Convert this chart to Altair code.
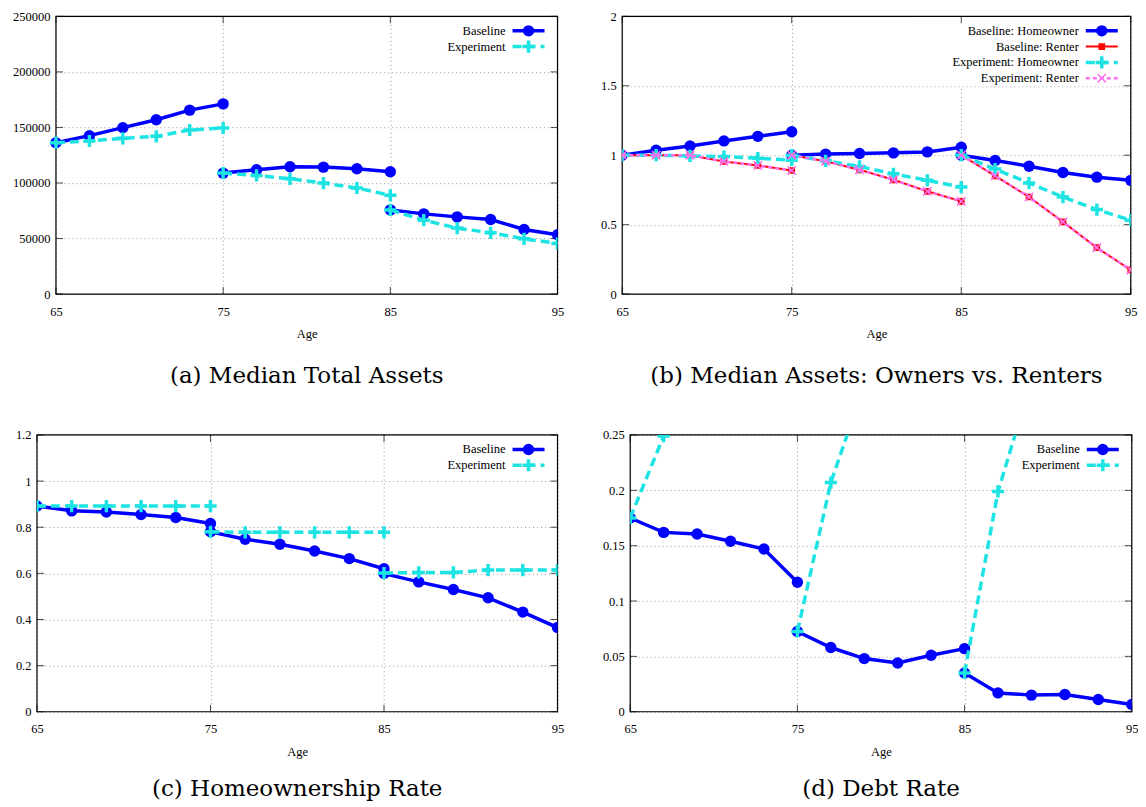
import altair as alt
import pandas as pd

# ---- data ----
# three overlapping age windows, every two years
seg_ages = [[65, 67, 69, 71, 73, 75], [75, 77, 79, 81, 83, 85], [85, 87, 89, 91, 93, 95]]
x_ticks = [65, 75, 85, 95]

# (a) Median Total Assets
a_baseline = [136300, 142600, 149800, 156900, 165600, 171200,
              108900, 111900, 114600, 114300, 112800, 110100,
              75800, 72200, 69500, 67100, 58200, 53400]
a_experiment = [136300, 137800, 140200, 142000, 147700, 149500,
                108900, 106800, 103800, 99900, 95500, 88900,
                75800, 66500, 59400, 55200, 49800, 45600]
a_ticks = [0, 50000, 100000, 150000, 200000, 250000]

# (b) Median Assets: Owners vs. Renters
b_base_owner = [1.0, 1.036, 1.067, 1.103, 1.136, 1.169,
                1.0, 1.008, 1.012, 1.017, 1.024, 1.057,
                1.0, 0.962, 0.921, 0.876, 0.842, 0.819]
b_base_renter = [1.0, 1.0, 1.0, 0.955, 0.926, 0.890,
                 1.0, 0.957, 0.895, 0.823, 0.740, 0.668,
                 1.0, 0.852, 0.699, 0.520, 0.334, 0.174]
b_exp_owner = [1.0, 1.0, 0.995, 0.990, 0.979, 0.964,
               1.0, 0.960, 0.919, 0.866, 0.819, 0.771,
               1.0, 0.900, 0.800, 0.699, 0.609, 0.532]
b_exp_renter = [1.0, 1.0, 1.0, 0.955, 0.926, 0.890,
                1.0, 0.957, 0.895, 0.823, 0.740, 0.668,
                1.0, 0.852, 0.699, 0.520, 0.334, 0.174]
b_ticks = [0, 0.5, 1, 1.5, 2]

# (c) Homeownership Rate
c_baseline = [0.892, 0.871, 0.866, 0.855, 0.842, 0.816,
              0.780, 0.748, 0.726, 0.697, 0.664, 0.620,
              0.599, 0.563, 0.530, 0.494, 0.432, 0.365]
c_experiment = [0.892, 0.892, 0.892, 0.892, 0.892, 0.892,
                0.780, 0.778, 0.778, 0.778, 0.778, 0.778,
                0.601, 0.604, 0.604, 0.614, 0.614, 0.614]
c_ticks = [0, 0.2, 0.4, 0.6, 0.8, 1, 1.2]

# (d) Debt Rate (experiment runs off the top of the axis)
d_baseline = [0.175, 0.162, 0.1605, 0.154, 0.147, 0.117,
              0.0725, 0.058, 0.048, 0.044, 0.051, 0.057,
              0.035, 0.017, 0.015, 0.0155, 0.011, 0.0066]
d_experiment = [0.175, 0.249, 0.32, 0.37, 0.41, 0.45,
                0.0725, 0.207, 0.295, 0.34, 0.38, 0.42,
                0.035, 0.199, 0.299, 0.35, 0.39, 0.43]
d_ticks = [0, 0.05, 0.1, 0.15, 0.2, 0.25]

FONT = "Liberation Serif"
CAP_FONT = "DejaVu Serif"
FS = 12.5
TICK = 7

STYLES = {
    "base": dict(color="#0000ff", width=3.5, dash=None, shape="circle", filled=True, size=130, sw=1),
    "exp": dict(color="#1ee3e3", width=3.5, dash=[9, 5], shape="M-1,0H1M0,-1V1", filled=False, size=150, sw=3.5),
    "base_r": dict(color="#ff0000", width=2, dash=None, shape="square", filled=True, size=45, sw=1),
    "exp_r": dict(color="#ff70f0", width=2.5, dash=[4, 3], shape="M-1,-1L1,1M-1,1L1,-1", filled=False, size=70, sw=1.5),
}


def series_frame(values):
    rows = []
    for s, ages in enumerate(seg_ages):
        for age, v in zip(ages, values[s * 6:(s + 1) * 6]):
            rows.append({"age": age, "value": v, "seg": s})
    return pd.DataFrame(rows)


def line_kw(st):
    kw = dict(color=st["color"], strokeWidth=st["width"])
    if st["dash"]:
        kw["strokeDash"] = st["dash"]
    return kw


def point_kw(st):
    kw = dict(shape=st["shape"], size=st["size"], opacity=1, filled=st["filled"], color=st["color"])
    if not st["filled"]:
        kw["strokeWidth"] = st["sw"]
    return kw


def panel(series, y_ticks, y_fmt, width, height, extent, caption, cap_offset, box=None, pad=0):
    # pad: blank strip left of the plot inside the cell, so rows can start at different x
    x_axis = dict(values=x_ticks, title="Age", labelFlush=False)
    y_axis = dict(values=y_ticks, format=y_fmt, title=None, minExtent=extent, maxExtent=extent)
    x_scale = dict(domain=[65, 95], nice=False, zero=False)
    if pad:
        x_scale["range"] = [pad, width]
        x_axis["titleX"] = pad + (width - pad) / 2
        y_axis["offset"] = -pad
    X = alt.X("age:Q", scale=alt.Scale(**x_scale), axis=alt.Axis(**x_axis))
    Y = alt.Y("value:Q", scale=alt.Scale(domain=[y_ticks[0], y_ticks[-1]], nice=False, zero=False),
              axis=alt.Axis(**y_axis))
    layers = []

    # white box behind the key, as gnuplot does
    if box:
        layers.append(alt.Chart(pd.DataFrame({"k": [0]})).mark_rect(color="white").encode(
            x=alt.value(width - box[0]), x2=alt.value(width - 1), y=alt.value(1), y2=alt.value(box[1])))

    # plot border
    frame = pd.DataFrame({"age": [65], "age2": [95], "value": [y_ticks[0]], "value2": [y_ticks[-1]]})
    layers.append(alt.Chart(frame).mark_rect(filled=False, stroke="black", strokeWidth=1.2).encode(
        x=X, x2="age2:Q", y=Y, y2="value2:Q"))

    # inward ticks on all four borders
    n = len(y_ticks)
    tk = dict(size=TICK, thickness=1, color="black")
    for age, off in ((65, TICK / 2), (95, -TICK / 2)):
        df = pd.DataFrame({"age": [age] * n, "value": y_ticks})
        layers.append(alt.Chart(df).mark_tick(orient="horizontal", xOffset=off, **tk).encode(x=X, y=Y))
    for val, off in ((y_ticks[0], -TICK / 2), (y_ticks[-1], TICK / 2)):
        df = pd.DataFrame({"age": x_ticks, "value": [val] * 4})
        layers.append(alt.Chart(df).mark_tick(orient="vertical", yOffset=off, **tk).encode(x=X, y=Y))

    for label, key, vals in series:
        st = STYLES[key]
        df = series_frame(vals)
        layers.append(alt.Chart(df).mark_line(clip=True, **line_kw(st)).encode(x=X, y=Y, detail="seg:N"))
        layers.append(alt.Chart(df).mark_point(clip=True, **point_kw(st)).encode(x=X, y=Y))

    # key in the top-right corner: label, then line sample
    for i, (label, key, _) in enumerate(series):
        st = STYLES[key]
        yy = 14.5 + i * 15.8
        lab = pd.DataFrame({"label": [label]})
        layers.append(alt.Chart(lab).mark_text(align="right", baseline="middle", font=FONT,
                                               fontSize=FS, color="black").encode(
            text="label:N", x=alt.value(width - 52), y=alt.value(yy)))
        layers.append(alt.Chart(lab).mark_rule(**line_kw(st)).encode(
            x=alt.value(width - 45), x2=alt.value(width - 13), y=alt.value(yy)))
        layers.append(alt.Chart(lab).mark_point(**point_kw(st)).encode(
            x=alt.value(width - 29), y=alt.value(yy)))

    return alt.layer(*layers).properties(
        width=width, height=height,
        title=alt.TitleParams(caption, orient="bottom", anchor="middle", font=CAP_FONT, dx=pad / 2,
                              fontSize=23, fontWeight="normal", color="black", offset=cap_offset))


pa = panel([("Baseline", "base", a_baseline), ("Experiment", "exp", a_experiment)],
           a_ticks, "d", 521, 278, 44, "(a) Median Total Assets", 25, pad=19)
pb = panel([("Baseline: Homeowner", "base", b_base_owner), ("Baseline: Renter", "base_r", b_base_renter),
            ("Experiment: Homeowner", "exp", b_exp_owner), ("Experiment: Renter", "exp_r", b_exp_renter)],
           b_ticks, "~g", 509, 278, 22, "(b) Median Assets: Owners vs. Renters", 25, box=(219, 70))
pc = panel([("Baseline", "base", c_baseline), ("Experiment", "exp", c_experiment)],
           c_ticks, "~g", 521, 277, 28, "(c) Homeownership Rate", 20)
pd_ = panel([("Baseline", "base", d_baseline), ("Experiment", "exp", d_experiment)],
            d_ticks, "~g", 502, 277, 30, "(d) Debt Rate", 20)

chart = alt.concat(
    pa, pb, pc, pd_, columns=2, align="none",
    spacing={"row": 39, "column": 34.75},
).properties(
    padding={"top": 1, "left": 0, "right": -1, "bottom": -1}
).configure_view(
    stroke="transparent"
).configure_axis(
    labelFont=FONT, labelFontSize=FS, labelColor="black",
    titleFont=FONT, titleFontSize=FS, titleFontWeight="normal", titleColor="black",
    domain=False, ticks=False, tickSize=0, labelOverlap=False,
    grid=True, gridColor="#9a9a9a", gridDash=[1, 3], gridWidth=1,
).configure_axisX(labelPadding=11, titlePadding=10).configure_axisY(labelPadding=6)

chart.save("out.html", embed_options={"renderer": "svg", "actions": False})
